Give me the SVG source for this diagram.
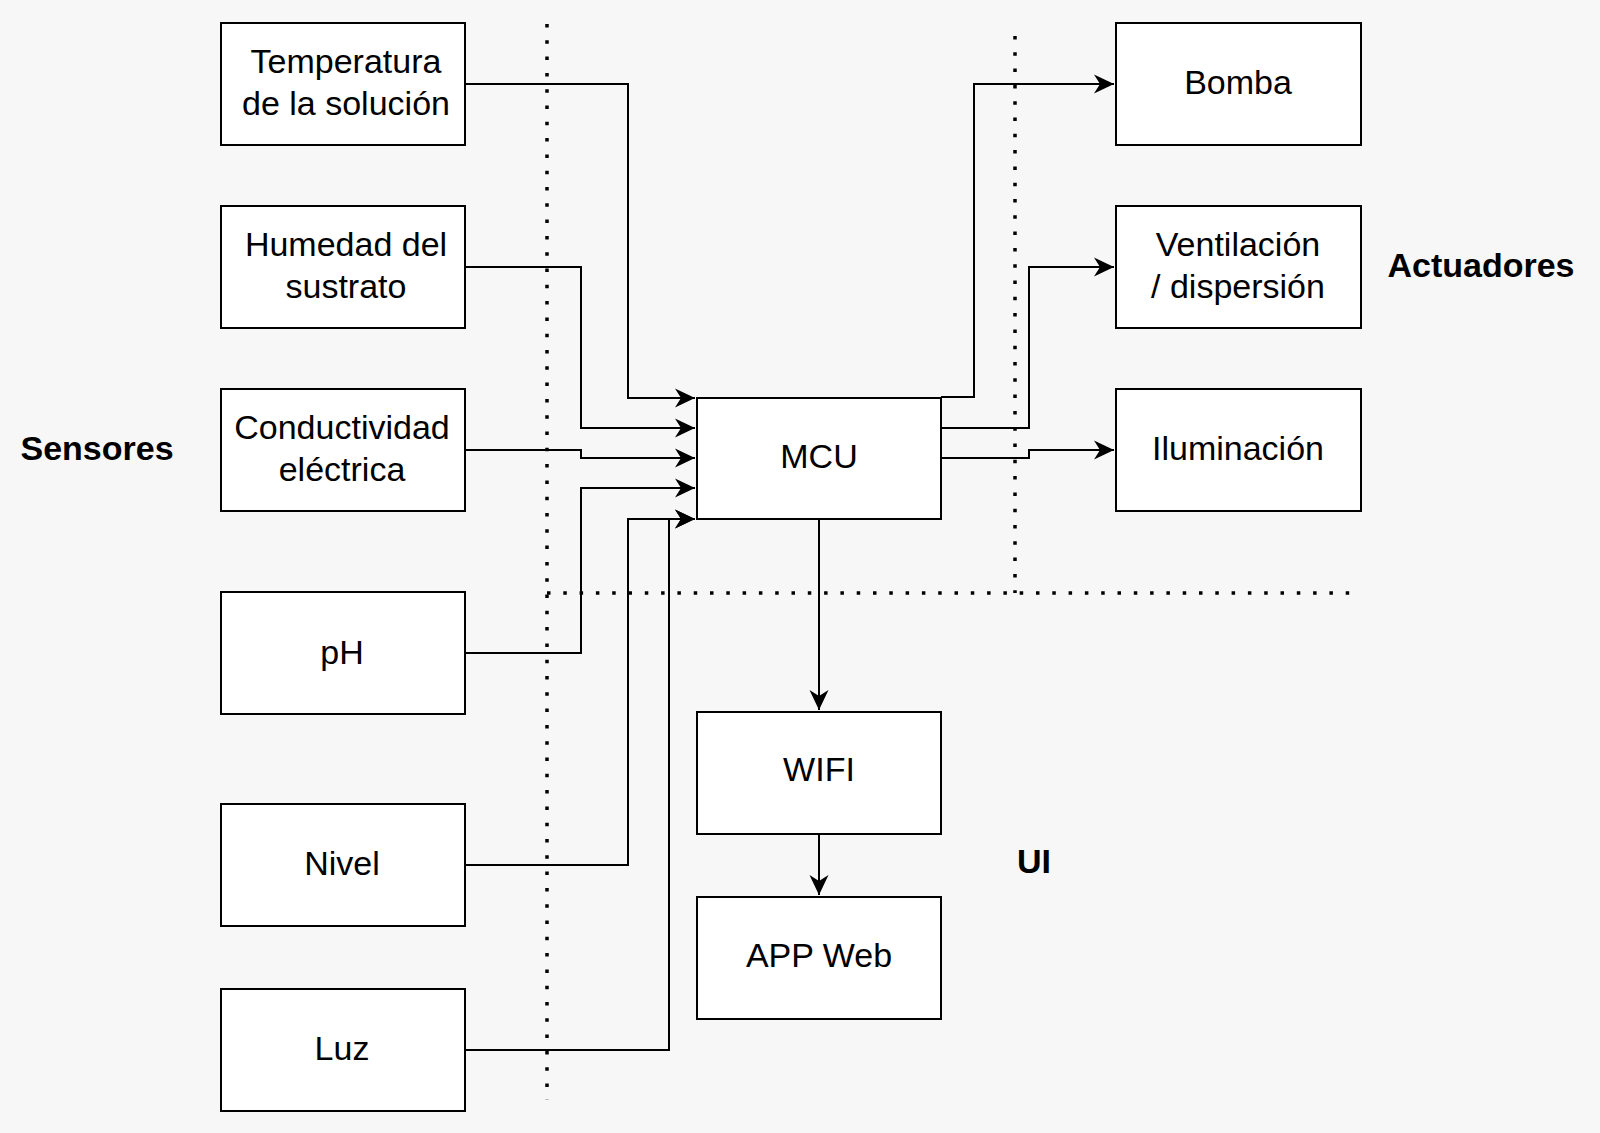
<svg xmlns="http://www.w3.org/2000/svg" width="1600" height="1133" viewBox="0 0 1600 1133">
<style>
.box{fill:#ffffff;stroke:#000000;stroke-width:2}
.t{font-family:"Liberation Sans",Arial,Helvetica,sans-serif;font-size:34px;fill:#000000;text-anchor:middle}
.lbl{font-family:"Liberation Sans",Arial,Helvetica,sans-serif;font-size:34px;font-weight:bold;fill:#000000;text-anchor:middle}
.c{fill:none;stroke:#000000;stroke-width:2}
.dot{fill:none;stroke:#000000;stroke-width:3.5;stroke-dasharray:3.5 12.8}
</style>
<defs>
<marker id="arr" markerUnits="userSpaceOnUse" markerWidth="22" markerHeight="22" viewBox="0 0 22 22" refX="20" refY="11" orient="auto">
<path d="M0,1.5 L20,11 L0,20.5 L6,11 z" fill="#000000"/>
</marker>
</defs>
<rect x="0" y="0" width="1600" height="1133" fill="#f7f7f7"/>

<g id="separators">
<line class="dot" x1="547" y1="24" x2="547" y2="1100"/>
<line class="dot" x1="1015" y1="36" x2="1015" y2="593"/>
<line class="dot" x1="547" y1="593" x2="1350" y2="593"/>
</g>

<g id="connectors">
<path class="c" d="M465,84 H628 V398 H695" marker-end="url(#arr)"/>
<path class="c" d="M465,267 H581 V428 H695" marker-end="url(#arr)"/>
<path class="c" d="M465,450 H581 V458 H695" marker-end="url(#arr)"/>
<path class="c" d="M465,653 H581 V488 H695" marker-end="url(#arr)"/>
<path class="c" d="M465,865 H628 V519 H695" marker-end="url(#arr)"/>
<path class="c" d="M465,1050 H669 V519 H695" marker-end="url(#arr)"/>
<path class="c" d="M941,397 H974 V84 H1114" marker-end="url(#arr)"/>
<path class="c" d="M941,428 H1029 V267 H1114" marker-end="url(#arr)"/>
<path class="c" d="M941,458 H1029 V450 H1114" marker-end="url(#arr)"/>
<path class="c" d="M819,519 V710" marker-end="url(#arr)"/>
<path class="c" d="M819,834 V895" marker-end="url(#arr)"/>
</g>

<g id="node-temperatura">
<rect class="box" x="221" y="23" width="244" height="122"/>
<text class="t" x="346" y="73">Temperatura</text>
<text class="t" x="346" y="115">de la solución</text>
</g>
<g id="node-humedad">
<rect class="box" x="221" y="206" width="244" height="122"/>
<text class="t" x="346" y="256">Humedad del</text>
<text class="t" x="346" y="298">sustrato</text>
</g>
<g id="node-conductividad">
<rect class="box" x="221" y="389" width="244" height="122"/>
<text class="t" x="342" y="439">Conductividad</text>
<text class="t" x="342" y="481">eléctrica</text>
</g>
<g id="node-ph">
<rect class="box" x="221" y="592" width="244" height="122"/>
<text class="t" x="342" y="664">pH</text>
</g>
<g id="node-nivel">
<rect class="box" x="221" y="804" width="244" height="122"/>
<text class="t" x="342" y="875">Nivel</text>
</g>
<g id="node-luz">
<rect class="box" x="221" y="989" width="244" height="122"/>
<text class="t" x="342" y="1060">Luz</text>
</g>
<g id="node-mcu">
<rect class="box" x="697" y="398" width="244" height="121"/>
<text class="t" x="819" y="468">MCU</text>
</g>
<g id="node-wifi">
<rect class="box" x="697" y="712" width="244" height="122"/>
<text class="t" x="819" y="781">WIFI</text>
</g>
<g id="node-app">
<rect class="box" x="697" y="897" width="244" height="122"/>
<text class="t" x="819" y="967">APP Web</text>
</g>
<g id="node-bomba">
<rect class="box" x="1116" y="23" width="245" height="122"/>
<text class="t" x="1238" y="94">Bomba</text>
</g>
<g id="node-ventilacion">
<rect class="box" x="1116" y="206" width="245" height="122"/>
<text class="t" x="1238" y="256">Ventilación</text>
<text class="t" x="1238" y="298">/ dispersión</text>
</g>
<g id="node-iluminacion">
<rect class="box" x="1116" y="389" width="245" height="122"/>
<text class="t" x="1238" y="460">Iluminación</text>
</g>

<g id="labels">
<text class="lbl" x="97" y="460">Sensores</text>
<text class="lbl" x="1481" y="277">Actuadores</text>
<text class="lbl" x="1034" y="873">UI</text>
</g>
</svg>
